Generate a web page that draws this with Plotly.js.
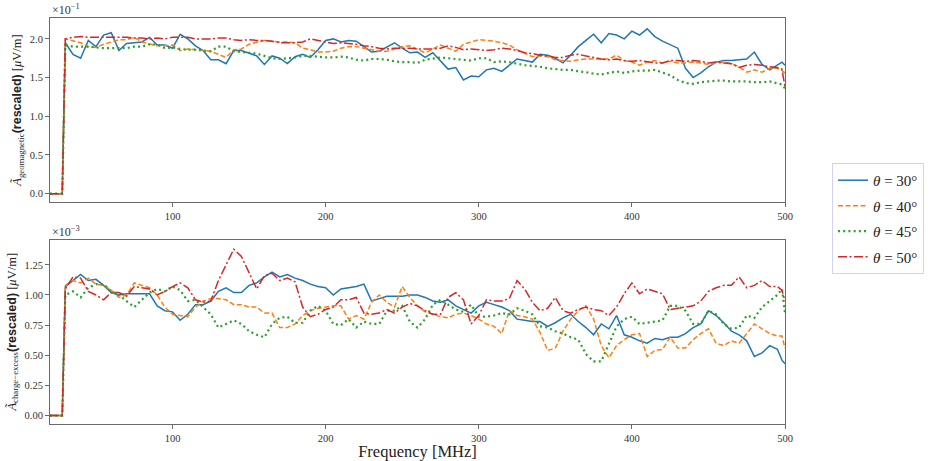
<!DOCTYPE html>
<html>
<head>
<meta charset="utf-8">
<script src="https://cdn.plot.ly/plotly-3.0.1.min.js"></script>
<style>html,body{margin:0;padding:0;background:#fff;}</style>
</head>
<body>
<div id="chart" style="width:944px;height:461px;"></div>
<script>
// Frequency grid [MHz]
const freq = [20, 25, 28,
  30, 35, 40, 45, 50, 55, 60, 65, 70, 75,
  80, 85, 90, 95, 100, 105, 110, 115, 120, 125,
  130, 135, 140, 145, 150, 155, 160, 165, 170, 175,
  180, 185, 190, 195, 200, 205, 210, 215, 220, 225,
  230, 235, 240, 245, 250, 255, 260, 265, 270, 275,
  280, 285, 290, 295, 300, 305, 310, 315, 320, 325,
  330, 335, 340, 345, 350, 355, 360, 365, 370, 375,
  380, 385, 390, 395, 400, 405, 410, 415, 420, 425,
  430, 435, 440, 445, 450, 455, 460, 465, 470, 475,
  480, 485, 490, 495, 498, 500];

const seriesNames = ['<i>θ</i> = 30°', '<i>θ</i> = 40°', '<i>θ</i> = 45°', '<i>θ</i> = 50°'];

// Geomagnetic amplitude (rescaled), units of 1e-1 µV/m
const geoTheta30 = [0, 0, 0,
  1.95, 1.8, 1.75, 1.98, 1.9, 2.05, 2.08, 1.85, 1.94, 1.95,
  1.96, 2.02, 1.92, 1.92, 1.88, 2.06, 2.0, 1.91, 1.85, 1.73,
  1.73, 1.68, 1.85, 1.85, 1.82, 1.78, 1.67, 1.78, 1.75, 1.68,
  1.77, 1.8, 1.76, 1.86, 1.98, 2.0, 1.96, 1.98, 1.97, 1.9,
  1.83, 1.84, 1.9, 1.95, 1.88, 1.82, 1.83, 1.76, 1.82, 1.72,
  1.61, 1.63, 1.47, 1.52, 1.51, 1.6, 1.62, 1.58, 1.66, 1.74,
  1.72, 1.7, 1.8, 1.79, 1.75, 1.69, 1.79, 1.9, 1.98, 2.06,
  1.95, 2.07, 2.05, 2.0, 2.1, 2.05, 2.13, 2.03, 1.97, 1.92,
  1.88, 1.62, 1.5, 1.56, 1.64, 1.7, 1.72, 1.72, 1.73, 1.74,
  1.83, 1.67, 1.6, 1.66, 1.7, 1.66];
const geoTheta40 = [0, 0, 0,
  2.0, 1.97, 1.95, 1.9, 1.89, 1.93, 1.96, 1.99, 1.99, 2.02,
  1.96, 1.93, 1.91, 1.91, 1.92, 1.85, 1.87, 1.86, 1.85, 1.84,
  1.8, 1.76, 1.86, 1.87, 1.93, 1.96, 1.98, 1.97, 1.96, 1.96,
  1.95, 1.88, 1.86, 1.83, 1.83, 1.84, 1.88, 1.9, 1.9, 1.88,
  1.86, 1.84, 1.84, 1.87, 1.9, 1.91, 1.87, 1.82, 1.87, 1.92,
  1.88, 1.84, 1.93, 1.96, 1.99, 1.98, 1.97, 1.95, 1.92, 1.86,
  1.81, 1.77, 1.78, 1.77, 1.73, 1.72, 1.71, 1.73, 1.74, 1.74,
  1.74, 1.74, 1.79, 1.72, 1.7, 1.66, 1.7, 1.72, 1.69, 1.71,
  1.69, 1.69, 1.7, 1.69, 1.67, 1.69, 1.7, 1.68, 1.64, 1.57,
  1.6, 1.57, 1.62, 1.62, 1.59, 1.56];
const geoTheta45 = [0, 0, 0,
  1.92, 1.9, 1.9, 1.9, 1.89, 1.88, 1.88, 1.88, 1.88, 1.9,
  1.9, 1.93, 1.93, 1.88, 1.89, 1.87, 1.86, 1.86, 1.85, 1.84,
  1.9, 1.9, 1.84, 1.83, 1.82, 1.81, 1.78, 1.75, 1.74, 1.75,
  1.76, 1.78, 1.78, 1.77, 1.76, 1.76, 1.77, 1.76, 1.73, 1.72,
  1.74, 1.74, 1.73, 1.71, 1.7, 1.7, 1.69, 1.73, 1.75, 1.76,
  1.75, 1.74, 1.73, 1.72, 1.75, 1.75, 1.7, 1.71, 1.7, 1.68,
  1.66, 1.65, 1.64, 1.62, 1.61, 1.6, 1.6, 1.58, 1.57, 1.55,
  1.54, 1.56, 1.58, 1.56, 1.58, 1.59, 1.59, 1.6, 1.57, 1.53,
  1.47, 1.43, 1.42, 1.44, 1.45, 1.46, 1.46, 1.45, 1.45, 1.45,
  1.44, 1.44, 1.45, 1.42, 1.41, 1.36];
const geoTheta50 = [0, 0, 0,
  2.0, 2.02, 2.03, 2.02, 2.02, 2.02, 2.02, 2.02, 2.02, 2.01,
  2.01, 2.0, 2.01, 2.0, 2.02, 2.02, 2.02, 2.0, 2.0, 2.0,
  2.01, 2.01, 1.99, 1.98, 1.99, 1.98, 1.98, 1.97, 1.95, 1.95,
  1.95, 1.96, 2.0, 1.98, 1.96, 1.94, 1.95, 1.94, 1.93, 1.91,
  1.9, 1.88, 1.87, 1.88, 1.88, 1.88, 1.87, 1.87, 1.87, 1.88,
  1.91, 1.89, 1.86, 1.87, 1.86, 1.85, 1.86, 1.88, 1.87, 1.85,
  1.82, 1.81, 1.79, 1.78, 1.76, 1.76, 1.79, 1.8, 1.78, 1.76,
  1.74, 1.73, 1.74, 1.72, 1.71, 1.72, 1.7, 1.69, 1.69, 1.72,
  1.72, 1.71, 1.72, 1.71, 1.69, 1.7, 1.69, 1.68, 1.63, 1.66,
  1.67, 1.66, 1.64, 1.63, 1.61, 1.38];

// Charge-excess amplitude (rescaled), units of 1e-3 µV/m
const ceTheta30 = [0, 0, 0,
  1.07, 1.12, 1.17, 1.12, 1.13, 1.08, 1.02, 1.0, 1.01, 1.01,
  1.01, 1.01, 0.91, 0.87, 0.86, 0.79, 0.84, 0.92, 0.92, 0.95,
  1.03, 1.06, 1.02, 1.02, 1.08, 1.1, 1.15, 1.19, 1.15, 1.17,
  1.14, 1.12, 1.09, 1.07, 1.06, 1.0, 1.05, 1.06, 1.07, 1.09,
  0.95, 0.97, 0.99, 0.99, 0.99, 1.0, 1.0, 0.98, 0.95, 0.94,
  0.96, 0.91, 0.88, 0.85, 0.91, 0.94, 0.92, 0.9, 0.87, 0.8,
  0.79, 0.78, 0.78, 0.74, 0.77, 0.81, 0.84, 0.78, 0.73, 0.67,
  0.76, 0.72, 0.83, 0.67, 0.65, 0.62, 0.6, 0.64, 0.63, 0.65,
  0.65, 0.68, 0.73, 0.76, 0.87, 0.83, 0.77, 0.7, 0.67, 0.62,
  0.49, 0.52, 0.58, 0.55, 0.46, 0.43];
const ceTheta40 = [0, 0, 0,
  1.08, 1.12, 1.1, 1.14, 1.09, 1.08, 1.04, 0.98, 1.0, 1.1,
  1.08, 1.06, 1.0, 0.9, 0.84, 0.83, 0.82, 0.9, 0.95, 0.97,
  0.97, 0.96, 0.92, 0.92, 0.9, 0.9, 0.85, 0.85, 0.73, 0.73,
  0.76, 0.83, 0.87, 0.89, 0.9, 0.91, 0.91, 0.8, 0.83, 0.8,
  0.94, 1.0, 0.94, 0.9, 1.07, 0.98, 0.91, 0.86, 0.84, 0.82,
  0.81, 0.84, 0.85, 0.83, 0.8, 0.76, 0.74, 0.68, 0.87, 0.83,
  0.82, 0.8, 0.69, 0.54, 0.56, 0.7, 0.8, 0.87, 0.91, 0.8,
  0.58, 0.48, 0.58, 0.63, 0.67, 0.68, 0.49, 0.54, 0.55, 0.65,
  0.56, 0.56, 0.63, 0.68, 0.72, 0.6, 0.58, 0.62, 0.6, 0.68,
  0.76, 0.72, 0.68, 0.66, 0.66, 0.56];
const ceTheta45 = [0, 0, 0,
  1.0, 1.03, 0.98, 1.06, 1.09, 1.09, 1.03, 1.0, 0.95, 0.9,
  0.96, 1.02, 1.05, 1.03, 1.07, 1.04, 0.95, 0.96, 0.9, 0.84,
  0.73, 0.76, 0.79, 0.76, 0.7, 0.67, 0.65, 0.76, 0.81, 0.82,
  0.77, 0.77, 0.87, 0.91, 0.87, 0.76, 0.75, 0.8, 0.73, 0.78,
  0.76, 0.76, 0.87, 0.87, 0.91, 0.78, 0.73, 0.8, 0.92, 0.96,
  0.92, 0.88, 0.86, 0.92, 0.82, 0.82, 0.83, 0.85, 0.84, 0.89,
  0.87, 0.84, 0.74, 0.73, 0.7, 0.68, 0.65, 0.63, 0.51, 0.45,
  0.45, 0.59, 0.74, 0.8, 0.82, 0.76, 0.77, 0.78, 0.79, 0.91,
  0.91, 0.87, 0.76, 0.76, 0.87, 0.84, 0.76, 0.72, 0.73, 0.83,
  0.81, 0.9, 0.95, 1.0, 1.05, 0.85];
const ceTheta50 = [0, 0, 0,
  1.05, 1.15, 1.14, 1.03, 1.0, 0.96, 1.02, 1.02, 0.99, 1.07,
  1.06, 1.05, 1.0, 1.03, 1.07, 1.1, 1.06, 0.96, 0.94, 0.95,
  1.12, 1.25, 1.38, 1.32, 1.19, 1.05, 1.16, 1.18, 1.12, 1.14,
  1.11, 0.9, 0.82, 0.84, 0.88, 0.9, 0.96, 0.96, 0.98, 0.85,
  0.84, 0.85, 0.88, 0.85, 0.9, 0.93, 0.91, 0.87, 0.84, 0.84,
  0.98, 1.02, 0.96, 0.76, 0.83, 0.96, 0.95, 0.95, 0.97, 1.12,
  1.05, 0.94, 0.87, 0.89, 0.98, 0.87, 0.85, 0.88, 0.9, 0.88,
  0.87, 0.83, 0.9, 1.01, 1.1, 1.01, 1.05, 1.03, 1.01, 0.88,
  0.89, 0.9, 0.91, 0.95, 1.03, 1.06, 1.08, 1.08, 1.15, 1.06,
  1.08, 1.12, 1.07, 1.07, 1.04, 0.95];

const freqTicks = [100, 200, 300, 400, 500];
const geoTicks = [0, 0.5, 1.0, 1.5, 2.0];
const ceTicks = [0, 0.25, 0.5, 0.75, 1.0, 1.25];

// Line styles (tab10 colours, matplotlib-like dash patterns)
const colors = ['#1f77b4', '#ff7f0e', '#2ca02c', '#d62728'];
const dashes = ['solid', '5px,2.5px', '2px,3.2px', '9px,2.5px,2px,2.5px'];
const widths = [1.5, 1.5, 2.2, 1.5];

const geoSeries = [geoTheta30, geoTheta40, geoTheta45, geoTheta50];
const ceSeries = [ceTheta30, ceTheta40, ceTheta45, ceTheta50];

const traces = [];
geoSeries.forEach((ys, i) => {
  traces.push({
    x: freq, y: ys, type: 'scatter', mode: 'lines',
    name: seriesNames[i], legendgroup: 'g' + i,
    line: {color: colors[i], width: widths[i], dash: dashes[i]},
    xaxis: 'x', yaxis: 'y'
  });
});
ceSeries.forEach((ys, i) => {
  traces.push({
    x: freq, y: ys, type: 'scatter', mode: 'lines',
    name: seriesNames[i], legendgroup: 'g' + i, showlegend: false,
    line: {color: colors[i], width: widths[i], dash: dashes[i]},
    xaxis: 'x2', yaxis: 'y2'
  });
});

const frameColor = '#6a6a6a';
const axisBase = {
  showline: true, mirror: true, linecolor: frameColor, linewidth: 1,
  ticks: 'outside', ticklen: 4, tickwidth: 1, tickcolor: frameColor,
  showgrid: false, zeroline: false,
  tickfont: {family: 'Liberation Serif, serif', size: 10.5, color: '#333'}
};
const sans = '<b><span style="font-family:Liberation Sans, Arial, sans-serif">(rescaled)</span></b>';

const layout = {
  width: 944, height: 461,
  margin: {l: 50, r: 159, t: 18, b: 37},
  paper_bgcolor: '#ffffff', plot_bgcolor: '#ffffff',
  font: {family: 'Liberation Serif, serif', size: 10.5, color: '#333'},
  showlegend: true,
  legend: {
    x: 1.064, y: 0.643, xanchor: 'left', yanchor: 'top',
    bgcolor: '#ffffff', bordercolor: '#d2d2f2', borderwidth: 1,
    font: {family: 'Liberation Serif, serif', size: 15, color: '#222'},
    tracegroupgap: 3
  },
  xaxis: Object.assign({}, axisBase, {
    domain: [0, 1], anchor: 'y', range: [20, 500], tickvals: freqTicks
  }),
  yaxis: Object.assign({}, axisBase, {
    domain: [0.5468, 1], anchor: 'x', range: [-0.108, 2.27],
    tickvals: geoTicks, tickformat: '.1f',
    title: {
      text: '<i>Ã</i><sub>geomagnetic</sub>' + sans + ' [<i>μ</i>V/m]',
      font: {family: 'Liberation Serif, serif', size: 12.5, color: '#222'},
      standoff: 5
    }
  }),
  xaxis2: Object.assign({}, axisBase, {
    domain: [0, 1], anchor: 'y2', range: [20, 500], tickvals: freqTicks,
    title: {
      text: 'Frequency [MHz]',
      font: {family: 'Liberation Serif, serif', size: 16.5, color: '#222'},
      standoff: 4
    }
  }),
  yaxis2: Object.assign({}, axisBase, {
    domain: [0, 0.4544], anchor: 'x2', range: [-0.0695, 1.46],
    tickvals: ceTicks, tickformat: '.2f',
    title: {
      text: '<i>Ã</i><sub>charge−excess</sub>' + sans + ' [<i>μ</i>V/m]',
      font: {family: 'Liberation Serif, serif', size: 12.5, color: '#222'},
      standoff: 5
    }
  }),
  annotations: [
    {text: '×10<sup>−1</sup>', xref: 'paper', yref: 'paper', x: 0, y: 1,
     xanchor: 'left', yanchor: 'bottom', showarrow: false, yshift: -1,
     font: {family: 'Liberation Serif, serif', size: 12, color: '#333'}},
    {text: '×10<sup>−3</sup>', xref: 'paper', yref: 'paper', x: 0, y: 0.4544,
     xanchor: 'left', yanchor: 'bottom', showarrow: false, yshift: -1,
     font: {family: 'Liberation Serif, serif', size: 12, color: '#333'}}
  ]
};

Plotly.newPlot('chart', traces, layout, {staticPlot: true, displayModeBar: false});
</script>
</body>
</html>
